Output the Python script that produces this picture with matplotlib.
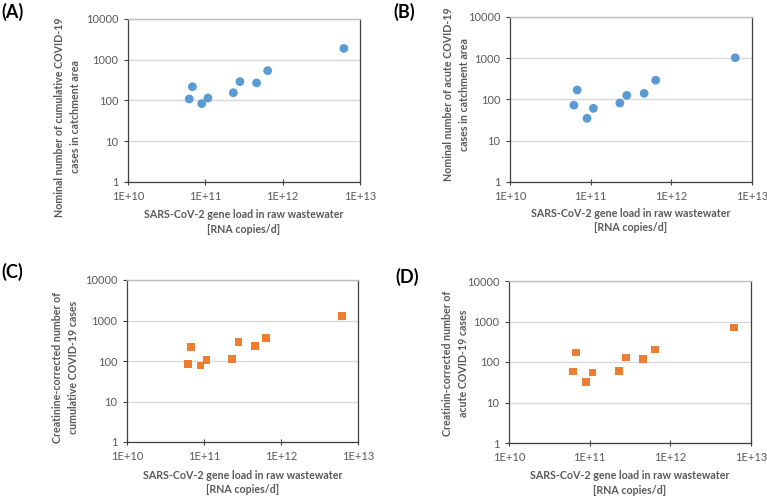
import numpy as np
import matplotlib
matplotlib.use("Agg")
import matplotlib.pyplot as plt
from matplotlib.ticker import FixedLocator, NullLocator

plt.rcParams["font.family"] = ["Lato", "DejaVu Sans"]

# shared x values: gene load [RNA copies/d]
gene_load = [6.2e10, 6.8e10, 9.0e10, 1.08e11, 2.3e11, 2.8e11, 4.6e11, 6.4e11, 6.2e12]

cum_nominal = [109, 218, 84, 115, 155, 290, 270, 540, 1900]
acute_nominal = [73, 170, 35, 61, 82, 126, 141, 293, 1025]
cum_creat = [85, 219, 77, 107, 113, 297, 232, 372, 1290]
acute_creat = [58, 170, 32, 55, 59, 130, 119, 202, 705]

x_ticks = [1e10, 1e11, 1e12, 1e13]
x_labels = ["1E+10", "1E+11", "1E+12", "1E+13"]
y_ticks = [1, 10, 100, 1000, 10000]
y_labels = ["1", "10", "100", "1000", "10000"]

xlabel = "SARS-CoV-2 gene load in raw wastewater\n[RNA copies/d]"

# tag, values, marker, colour, ylabel, axes box (px), tag pos (px), ylabel pos, xlabel pos
panels = [
    ("(A)", cum_nominal, "o", "#5B9BD5",
     "Nominal number of cumulative COVID-19\ncases in catchment area",
     [128, 19, 360, 182], (1, 18), (-0.26, 0.40), -0.245),
    ("(B)", acute_nominal, "o", "#5B9BD5",
     "Nominal number of acute COVID-19\ncases in catchment area",
     [510, 17, 752, 182], (393, 18), (-0.22, 0.53), -0.233),
    ("(C)", cum_creat, "s", "#ED7D31",
     "Creatinine-corrected number of\ncumulative COVID-19 cases",
     [127, 280, 358, 442], (1, 278), (-0.265, 0.46), -0.25),
    ("(D)", acute_creat, "s", "#ED7D31",
     "Creatinin-corrected number of\nacute COVID-19 cases",
     [509, 281, 751, 443], (395, 283), (-0.223, 0.494), -0.247),
]

W, H = 767, 497
fig = plt.figure(figsize=(W / 100, H / 100), dpi=100)

grey = "#595959"
for tag, yvals, marker, color, ylabel, box, tagpos, ylpos, xly in panels:
    x0, y0, x1, y1 = box
    ax = fig.add_axes([x0 / W, 1 - y1 / H, (x1 - x0) / W, (y1 - y0) / H])
    ax.set_xscale("log")
    ax.set_yscale("log")
    ax.set_xlim(1e10, 1e13)
    ax.set_ylim(1, 10000)
    ax.yaxis.grid(True, color="#D9D9D9", linewidth=1)
    ax.set_axisbelow(True)
    ax.scatter(gene_load, yvals, marker=marker, s=40 if marker == "o" else 30,
               color=color, edgecolors="none", zorder=3, clip_on=False)

    ax.xaxis.set_major_locator(FixedLocator(x_ticks))
    ax.yaxis.set_major_locator(FixedLocator(y_ticks))
    ax.xaxis.set_minor_locator(NullLocator())
    ax.yaxis.set_minor_locator(NullLocator())
    ax.set_xticklabels(x_labels)
    ax.set_yticklabels(y_labels)
    ax.tick_params(axis="x", direction="inout", length=5, width=0.8,
                   colors="#404040", labelcolor=grey, labelsize=8, pad=4)
    ax.tick_params(axis="y", direction="out", length=3, width=0.8,
                   colors="#404040", labelcolor=grey, labelsize=8, pad=4)

    for side in ("left", "bottom", "right"):
        ax.spines[side].set_color("#404040")
        ax.spines[side].set_linewidth(0.9)
    ax.spines["top"].set_color("#BFBFBF")
    ax.spines["top"].set_linewidth(1)

    ax.set_xlabel(xlabel, fontsize=7.7, fontweight="bold", color=grey,
                  linespacing=1.35)
    ax.xaxis.set_label_coords(0.5, xly)
    ax.xaxis.label.set_va("center")
    ax.set_ylabel(ylabel, fontsize=7.7, fontweight="bold", color=grey,
                  linespacing=1.55)
    ax.yaxis.set_label_coords(*ylpos)
    ax.yaxis.label.set_va("center")

    fig.text(tagpos[0] / W, 1 - tagpos[1] / H, tag, fontsize=13,
             fontweight="bold", color="black", ha="left", va="baseline")

fig.savefig("out.png", dpi=100)
